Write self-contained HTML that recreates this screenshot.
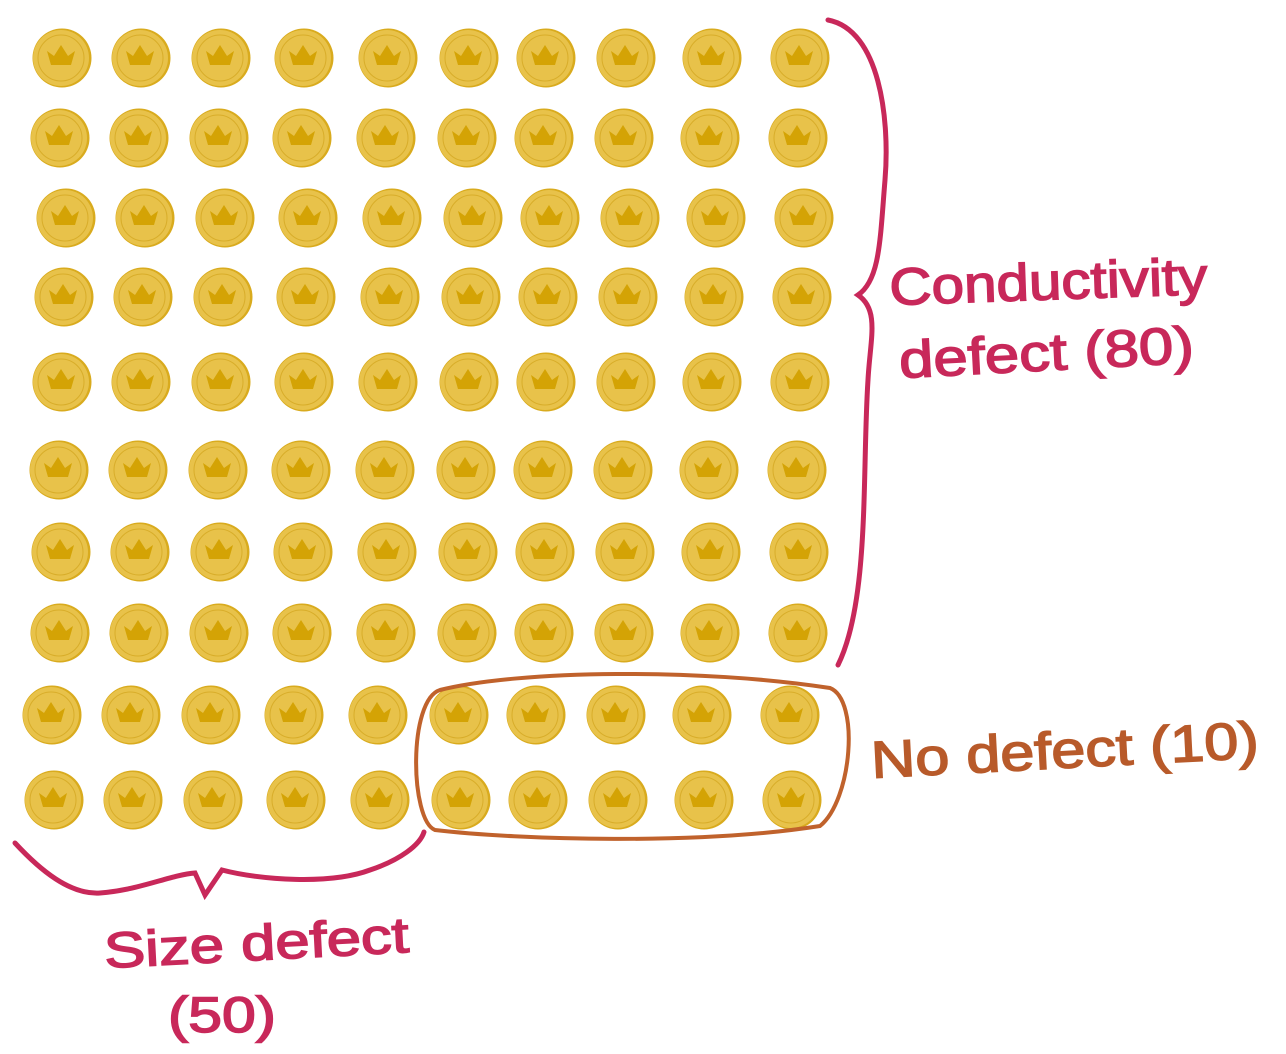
<!DOCTYPE html>
<html><head><meta charset="utf-8">
<style>
html,body{margin:0;padding:0;background:#fff;}
svg{display:block;}
text{font-family:"Liberation Sans",sans-serif;fill:#c8285a;stroke:#c8285a;stroke-width:1.5;}
</style></head>
<body>
<svg id="chart" width="1286" height="1054" viewBox="0 0 1286 1054" xmlns="http://www.w3.org/2000/svg">
<g id="coins"></g>
<path d="M828,20 C880,30 890,120 885,180 C880,240 880,280 858,295 C880,310 870,340 868,380 C862,470 870,600 838,665" fill="none" stroke="#c8285a" stroke-width="5" stroke-linecap="round"/>
<text x="890" y="305" font-size="52" textLength="318" lengthAdjust="spacingAndGlyphs" transform="rotate(-2 890 305)">Conductivity</text>
<text x="900" y="378" font-size="52" textLength="295" lengthAdjust="spacingAndGlyphs" transform="rotate(-3 900 378)">defect (80)</text>
<path d="M440,690 C520,670 700,668 830,688 C860,700 852,800 820,826 C700,845 520,840 435,830 C410,820 408,700 440,690 Z" fill="none" stroke="#c0622c" stroke-width="4"/>
<text x="872" y="778" font-size="52" textLength="388" lengthAdjust="spacingAndGlyphs" style="fill:#b85a2a;stroke:#b85a2a" transform="rotate(-3 872 778)">No defect (10)</text>
<path d="M15,843 C40,870 70,895 100,893 C140,890 170,875 195,873 L205,895 L222,870 C260,880 330,885 370,870 C400,860 420,845 424,832" fill="none" stroke="#c8285a" stroke-width="5" stroke-linecap="round"/>
<text x="105" y="968" font-size="50" textLength="305" lengthAdjust="spacingAndGlyphs" transform="rotate(-3 105 968)">Size defect</text>
<text x="168" y="1032" font-size="50" textLength="108" lengthAdjust="spacingAndGlyphs">(50)</text>
</svg>
<script>
const rowY = [58,138,218,297,382,470,552,633,715,800];
const rowXOffset = [0,-2,4,2,0,-3,-1,-2,-10,-8];
const colX = [62,141,221,304,388,469,546,626,712,800];
const coinCounts = [80,10];
const ns = 'http://www.w3.org/2000/svg';
const g = document.getElementById('coins');
rowY.forEach((y, r) => {
  colX.forEach((x0, c) => {
    const x = x0 + rowXOffset[r];
    const coin = document.createElementNS(ns, 'g');
    
    
    coin.setAttribute('transform', `translate(${x},${y})`);
    coin.innerHTML =
      '<circle r="29.5" fill="#d9ab1e"/>' +
      '<circle r="28" cx="-1" fill="#e8c24a"/>' +
      '<circle r="23" cx="-1" fill="none" stroke="#d8ad2a" stroke-width="1"/>' +
      '<path d="M-15,-7 L-8,-2 L-1,-13 L6,-2 L13,-7 L9,7 L-11,7 Z" fill="#d4a305"/>';
    g.appendChild(coin);
  });
});
</script>
</body></html>
